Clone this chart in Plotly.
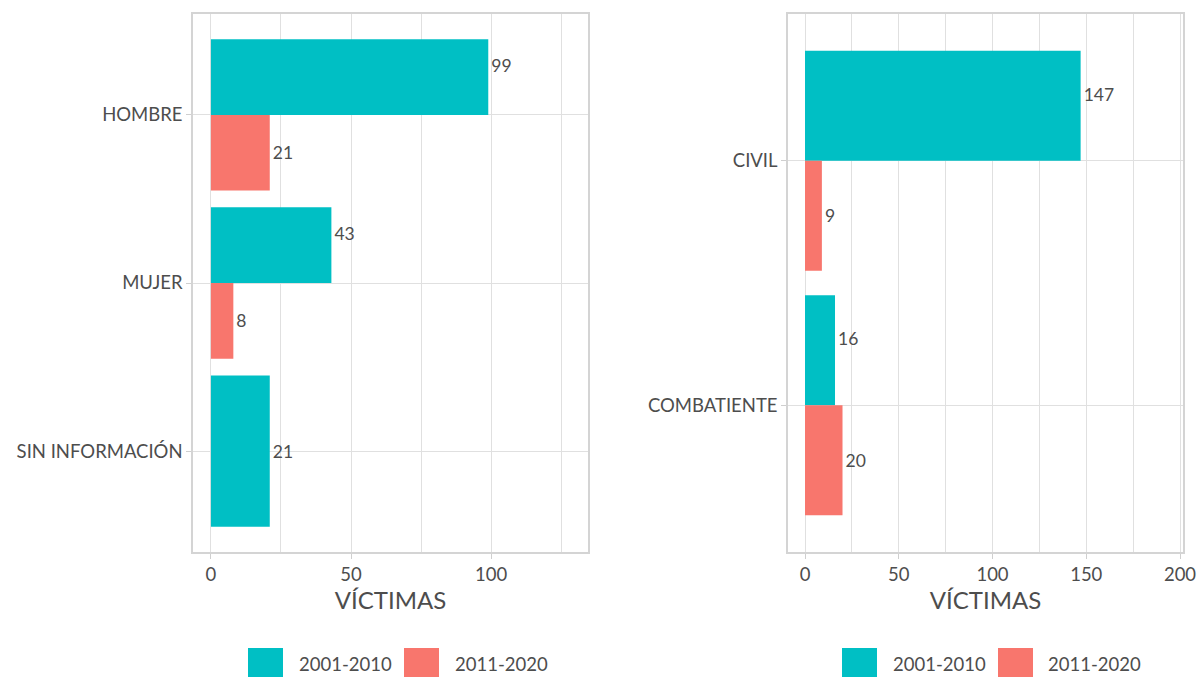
import plotly.graph_objects as go
from plotly.subplots import make_subplots

# data
SERIES = ["2001-2010", "2011-2020"]
COLORS = ["#00BFC4", "#F8766D"]

SEXO_CATS = ["HOMBRE", "MUJER", "SIN INFORMACIÓN"]
SEXO_2001 = [99, 43, 21]
SEXO_2011 = [21, 8, None]

COND_CATS = ["CIVIL", "COMBATIENTE"]
COND_2001 = [147, 16]
COND_2011 = [9, 20]

FONT = "Lato"
TXT = "#4D4D4D"
GRID = "#E0E0E0"
BORDER = "#D4D4D4"

ML, MR, MT, MB = 193, 16, 14, 125
W, H = 1199, 677
PW, PH = W - ML - MR, H - MT - MB


def px_x(p):
    return (p - ML) / PW


def px_y(p):
    return (H - MB - p) / PH


def add_panel(fig, col, cats, v1, v2):
    # teal bar sits in the upper half when a second bar exists, else full width
    c1, x1, w1, o1, t1 = [], [], [], [], []
    c2, x2, w2, o2, t2 = [], [], [], [], []
    for c, a, b in zip(cats, v1, v2):
        if a is not None:
            c1.append(c); x1.append(a)
            if b is None:
                w1.append(0.9); o1.append(-0.45); t1.append(str(a))
            else:
                # label sits a little above the bar middle, as in the original
                w1.append(0.45); o1.append(0.0); t1.append(f"{a}<br> ")
        if b is not None:
            c2.append(c); x2.append(b)
            w2.append(0.45); o2.append(-0.45); t2.append(str(b))
    for cs, xs, ws, os_, ts, color, name in [
        (c1, x1, w1, o1, t1, COLORS[0], SERIES[0]),
        (c2, x2, w2, o2, t2, COLORS[1], SERIES[1]),
    ]:
        fig.add_trace(go.Bar(
            y=cs, x=xs, orientation="h", width=ws, offset=os_,
            marker=dict(color=color, line_width=0),
            text=ts, textposition="outside", cliponaxis=False,
            textfont=dict(family=FONT, size=17.5, color=TXT),
            name=name, showlegend=False,
        ), row=1, col=col)


fig = make_subplots(rows=1, cols=2)
add_panel(fig, 1, SEXO_CATS, SEXO_2001, SEXO_2011)
add_panel(fig, 2, COND_CATS, COND_2001, COND_2011)

axis_common = dict(
    showline=True, mirror=True, linecolor=BORDER, linewidth=1.5,
    showgrid=True, gridcolor=GRID, gridwidth=1.2, zeroline=False,
    ticks="outside", ticklen=5, tickcolor="#CFCFCF", automargin=False,
    tickfont=dict(family=FONT, size=18.5, color=TXT),
)

fig.update_xaxes(**axis_common, dtick=50,
                 minor=dict(dtick=25, showgrid=True, gridcolor=GRID, gridwidth=1.2),
                 title=dict(text="VÍCTIMAS", standoff=6,
                            font=dict(family=FONT, size=24, color=TXT)))
fig.update_yaxes(**axis_common)

fig.update_layout(
    xaxis=dict(domain=[0, px_x(588)], range=[-6.4, 134.6]),
    xaxis2=dict(domain=[px_x(788), 1], range=[-9.07, 201.6]),
    yaxis=dict(categoryorder="array", categoryarray=SEXO_CATS[::-1],
               range=[-0.6, 2.6]),
    yaxis2=dict(categoryorder="array", categoryarray=COND_CATS[::-1],
                range=[-0.6, 1.6]),
    barmode="overlay",
    width=W, height=H,
    margin=dict(l=ML, r=MR, t=MT, b=MB),
    paper_bgcolor="white", plot_bgcolor="white",
    font=dict(family=FONT, color=TXT),
    showlegend=False,
)

# legends drawn below each panel
legend_pos = [
    [(248, 297), (404, 453)],
    [(842, 891), (998, 1046)],
]
for panel in legend_pos:
    for (kx, tx), color, name in zip(panel, COLORS, SERIES):
        fig.add_shape(type="rect", xref="paper", yref="paper",
                      x0=px_x(kx), x1=px_x(kx + 35),
                      y0=px_y(648), y1=px_y(700),
                      fillcolor=color, line_width=0)
        fig.add_annotation(x=px_x(tx), y=px_y(664), xref="paper", yref="paper",
                           text=name, showarrow=False, xanchor="left",
                           yanchor="middle",
                           font=dict(family=FONT, size=18.5, color=TXT))

fig.write_html("out.html", config={"displayModeBar": False},
               post_script="document.body.style.margin='0';")
